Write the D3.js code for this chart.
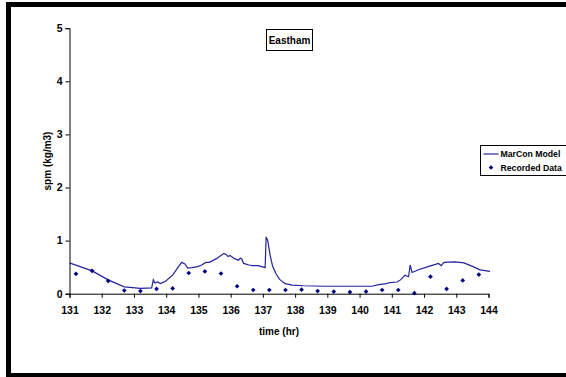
<!DOCTYPE html>
<html>
<head>
<meta charset="utf-8">
<script src="https://cdn.jsdelivr.net/npm/d3@7"></script>
<style>
  body { margin: 0; background: #fff; }
  svg { display: block; font-family: "Liberation Sans", Arial, sans-serif; }
</style>
</head>
<body>
<svg id="chart" width="566" height="377"></svg>
<script>
// Data
const X_TICKS = [131, 132, 133, 134, 135, 136, 137, 138, 139, 140, 141, 142, 143, 144];
const Y_TICKS = [0, 1, 2, 3, 4, 5];

// Recorded data (time hr, spm kg/m3)
const recordedTime = [131.2, 131.7, 132.2, 132.7, 133.2, 133.7, 134.2, 134.7, 135.2, 135.7,
  136.2, 136.7, 137.2, 137.7, 138.2, 138.7, 139.2, 139.7, 140.2, 140.7,
  141.2, 141.7, 142.2, 142.7, 143.2, 143.7];
const recordedSpm = [0.375, 0.43, 0.24, 0.06, 0.05, 0.09, 0.10, 0.39, 0.42, 0.38,
  0.14, 0.07, 0.07, 0.07, 0.075, 0.05, 0.04, 0.03, 0.04, 0.07,
  0.07, 0.01, 0.32, 0.09, 0.25, 0.36];

// MarCon model line
const modelTime = [131.0, 131.7, 132.2, 132.7, 133.2, 133.55, 133.6, 133.65, 133.73, 133.82,
  133.99, 134.2, 134.36, 134.48, 134.58, 134.67, 134.8, 134.98, 135.1, 135.23,
  135.34, 135.56, 135.79, 135.86, 135.92, 135.98, 136.12, 136.24, 136.3, 136.35,
  136.4, 136.57, 136.68, 136.85, 137.07, 137.1, 137.15, 137.22, 137.3, 137.41,
  137.52, 137.69, 137.91, 138.25, 138.92, 140.04, 140.38, 140.6, 140.83, 140.94,
  141.16, 141.27, 141.41, 141.52, 141.57, 141.63, 141.83, 142.17, 142.45, 142.53,
  142.62, 142.96, 143.24, 143.52, 143.74, 144.05];
const modelSpm = [0.58, 0.43, 0.26, 0.13, 0.10, 0.11, 0.26, 0.20, 0.22, 0.19,
  0.24, 0.35, 0.49, 0.59, 0.56, 0.48, 0.49, 0.51, 0.54, 0.59,
  0.59, 0.66, 0.76, 0.74, 0.70, 0.72, 0.66, 0.63, 0.67, 0.65,
  0.57, 0.54, 0.53, 0.53, 0.49, 1.07, 1.00, 0.74, 0.52, 0.37,
  0.27, 0.19, 0.16, 0.15, 0.14, 0.14, 0.14, 0.17, 0.19, 0.21,
  0.22, 0.26, 0.35, 0.32, 0.54, 0.40, 0.45, 0.52, 0.57, 0.53,
  0.59, 0.60, 0.58, 0.51, 0.45, 0.42];

const LINE_COLOR = '#23239a';
const POINT_COLOR = '#000080';

const svg = d3.select('#chart');

// Outer frame (black bars on left, top and bottom)
svg.append('rect').attr('x', 6).attr('y', 2).attr('width', 560).attr('height', 5).attr('fill', '#000');
svg.append('rect').attr('x', 6).attr('y', 2).attr('width', 5).attr('height', 375).attr('fill', '#000');
svg.append('rect').attr('x', 6).attr('y', 373).attr('width', 560).attr('height', 4).attr('fill', '#000');

const x = d3.scaleLinear().domain([131, 144]).range([69.5, 488.5]);
const y = d3.scaleLinear().domain([0, 5]).range([293.7, 28.2]);

// Axes
const xAxis = svg.append('g')
    .attr('transform', 'translate(0,' + y(0) + ')')
    .call(d3.axisBottom(x).tickValues(X_TICKS).tickSize(4).tickPadding(9).tickFormat(d3.format('d')));
const yAxis = svg.append('g')
    .attr('transform', 'translate(' + x(131) + ',0)')
    .call(d3.axisLeft(y).tickValues(Y_TICKS).tickSize(4).tickPadding(3).tickFormat(d3.format('d')));

[xAxis, yAxis].forEach(function(g) {
  g.select('.domain').attr('stroke', '#000').attr('stroke-width', 1);
  g.selectAll('.tick line').attr('stroke', '#000');
  g.selectAll('.tick text')
      .attr('fill', '#000')
      .style('font-family', '"Liberation Sans", Arial, sans-serif')
      .style('font-size', '10.5px')
      .style('font-weight', 'bold');
});

// Axis titles
svg.append('text')
    .attr('x', 279).attr('y', 335)
    .attr('text-anchor', 'middle')
    .style('font-size', '10px').style('font-weight', 'bold')
    .text('time (hr)');
svg.append('text')
    .attr('transform', 'translate(51,161) rotate(-90)')
    .attr('text-anchor', 'middle')
    .style('font-size', '10px').style('font-weight', 'bold')
    .text('spm (kg/m3)');

// Model line
const model = modelTime.map(function(t, i) { return [t, modelSpm[i]]; });
svg.append('path')
    .attr('d', d3.line().x(function(d) { return x(d[0]); }).y(function(d) { return y(d[1]); })(model))
    .attr('fill', 'none')
    .attr('stroke', LINE_COLOR)
    .attr('stroke-width', 1.2);

// Recorded points
const diamond = d3.symbol().type(d3.symbolDiamond2).size(14);
svg.append('g').selectAll('path')
    .data(recordedTime.map(function(t, i) { return [t, recordedSpm[i]]; }))
    .join('path')
    .attr('d', diamond)
    .attr('transform', function(d) { return 'translate(' + x(d[0]) + ',' + y(d[1]) + ')'; })
    .attr('fill', POINT_COLOR);

// Title box
svg.append('rect').attr('x', 266.5).attr('y', 29.5).attr('width', 46).attr('height', 21)
    .attr('fill', '#fff').attr('stroke', '#000').attr('stroke-width', 1);
svg.append('text')
    .attr('x', 289.5).attr('y', 44)
    .attr('text-anchor', 'middle')
    .style('font-size', '10px').style('font-weight', 'bold')
    .text('Eastham');

// Legend
const legend = svg.append('g').attr('transform', 'translate(480.5,145.5)');
legend.append('rect').attr('width', 90).attr('height', 30)
    .attr('fill', '#fff').attr('stroke', '#000').attr('stroke-width', 1);
legend.append('line').attr('x1', 3).attr('x2', 18).attr('y1', 8.5).attr('y2', 8.5)
    .attr('stroke', LINE_COLOR).attr('stroke-width', 1.2);
legend.append('path').attr('d', diamond).attr('transform', 'translate(10.5,22)').attr('fill', POINT_COLOR);
legend.append('text').attr('x', 20).attr('y', 11.5)
    .style('font-size', '8.7px').style('font-weight', 'bold').text('MarCon Model');
legend.append('text').attr('x', 20).attr('y', 25.5)
    .style('font-size', '8.7px').style('font-weight', 'bold').text('Recorded Data');
</script>
</body>
</html>
